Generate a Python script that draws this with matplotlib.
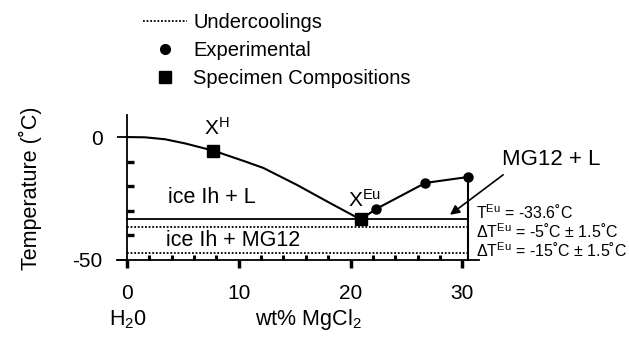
import matplotlib
matplotlib.use("Agg")
import matplotlib.pyplot as plt
from matplotlib.lines import Line2D
from matplotlib.ticker import FixedLocator
import matplotlib.transforms as mtransforms

plt.rcParams['font.family'] = ['Liberation Sans', 'DejaVu Sans']
plt.rcParams['mathtext.fontset'] = 'custom'
plt.rcParams['mathtext.rm'] = 'Liberation Sans'
plt.rcParams['mathtext.it'] = 'Liberation Sans:italic'
plt.rcParams['mathtext.bf'] = 'Liberation Sans:bold'

# ---- data ----
liquidus_x = [0, 1.6, 3.4, 5.2, 7.0, 7.7, 10.6, 12.2, 15.2, 18.2, 20.9]
liquidus_T = [0, -0.1, -0.9, -2.6, -4.7, -5.5, -10.0, -12.6, -19.5, -27.0, -33.6]
exp_x = [22.3, 26.7, 30.5]
exp_T = [-29.3, -18.7, -16.3]
spec_x = [7.7, 20.9]
spec_T = [-5.5, -33.6]
T_eu = -33.6
undercooling_T = [-36.7, -47.3]
x_ticks = [0, 10, 20, 30]
x_tick_labels = ["0", "10", "20", "30"]
x_minor = [2, 4, 6, 8, 12, 14, 16, 18, 22, 24, 26, 28]
y_ticks = [-50, 0]
y_tick_labels = ["-50", "0"]
y_minor = [-40, -30, -20, -10]

W, H = 629, 339
fig = plt.figure(figsize=(W / 100, H / 100), dpi=100)
left, right, top, bottom = 117, 479, 115, 267
ax = fig.add_axes([left / W, 1 - bottom / H, (right - left) / W, (bottom - top) / H])
ax.set_xlim(-0.9, 31.5)
ax.set_ylim(-53, 9)

for s in ['top', 'right']:
    ax.spines[s].set_visible(False)
ax.spines['bottom'].set_position(('data', -50))
ax.spines['left'].set_position(('data', 0))
for s in ['bottom', 'left']:
    ax.spines[s].set_linewidth(1.3)

ax.xaxis.set_major_locator(FixedLocator(x_ticks))
ax.set_xticklabels(x_tick_labels)
ax.xaxis.set_minor_locator(FixedLocator(x_minor))
ax.yaxis.set_major_locator(FixedLocator(y_ticks))
ax.set_yticklabels(y_tick_labels)
ax.yaxis.set_minor_locator(FixedLocator(y_minor))

ax.tick_params(axis='x', which='major', direction='out', length=6, width=2.5,
               pad=11.5, labelsize=15)
ax.tick_params(axis='x', which='minor', direction='in', length=3.5, width=2.2)
ax.tick_params(axis='y', which='major', direction='out', length=7.2, width=1.3,
               pad=10.5, labelsize=15)
ax.tick_params(axis='y', which='minor', direction='in', length=5, width=2.4)

x_right = exp_x[-1]
ax.plot([0, x_right], [T_eu, T_eu], color='black', lw=1.3)
for uT in undercooling_T:
    ax.plot([0, x_right], [uT, uT], color='black', lw=1.3, linestyle=(0, (1, 1)))
ax.plot([x_right, x_right], [-50, exp_T[-1]], color='black', lw=1.5)

ax.plot(liquidus_x, liquidus_T, color='black', lw=1.5, solid_joinstyle='round')
ax.plot([spec_x[-1]] + exp_x, [spec_T[-1]] + exp_T, color='black', lw=1.5)
ax.plot(exp_x, exp_T, 'o', color='black', ms=6.5)
ax.plot(spec_x, spec_T, 's', color='black', ms=8)

ax.text(8.0, 0.8, r'X$^{\mathrm{H}}$', ha='center', va='baseline', fontsize=15)
ax.text(21.3, -28.5, r'X$^{\mathrm{Eu}}$', ha='center', va='baseline', fontsize=15)
ax.text(7.6, -26.8, 'ice Ih + L', ha='center', va='baseline', fontsize=15.5)
ax.text(9.5, -44.3, 'ice Ih + MG12', ha='center', va='baseline', fontsize=15.5)
ax.text(37.96, -9.35, 'MG12 + L', ha='center', va='center', fontsize=16,
        clip_on=False)
ax.annotate('', xy=(28.9, -31.7), xytext=(33.66, -15.4),
            arrowprops=dict(arrowstyle='-|>', color='black', lw=1.2,
                            mutation_scale=14, shrinkA=0, shrinkB=0),
            annotation_clip=False)
ax.text(31.25, -30.9, r'T$^{\mathrm{Eu}}$ = -33.6˚C', ha='left', va='center',
        fontsize=11.5, clip_on=False)
ax.text(31.25, -38.6, r'ΔT$^{\mathrm{Eu}}$ = -5˚C ± 1.5˚C', ha='left', va='center',
        fontsize=11.5, clip_on=False)
ax.text(31.25, -46.3, r'ΔT$^{\mathrm{Eu}}$ = -15˚C ± 1.5˚C', ha='left', va='center',
        fontsize=11.5, clip_on=False)

trans = mtransforms.blended_transform_factory(ax.transData, fig.transFigure)
ax.text(0.1, 1 - 320 / H, r'H$_{2}$0', ha='center', va='center', fontsize=15.5,
        transform=trans)
ax.text(16.2, 1 - 320 / H, r'wt% MgCl$_{2}$', ha='center', va='center',
        fontsize=15.5, transform=trans)
fig.text(30 / W, 1 - 188 / H, 'Temperature (˚C)', rotation=90, ha='center',
         va='center', fontsize=15.5)

handles = [Line2D([], [], color='black', lw=1.3, linestyle=(0, (1, 1))),
           Line2D([], [], color='black', marker='o', ms=7, linestyle='none'),
           Line2D([], [], color='black', marker='s', ms=8.5, linestyle='none')]
labels = ['Undercoolings', 'Experimental', 'Specimen Compositions']
fig.legend(handles, labels, loc='upper left', bbox_to_anchor=(143 / W, 1 - 13 / H),
           frameon=False, fontsize=14.5, handlelength=2.2, handletextpad=0.3,
           labelspacing=0.45, borderpad=0, borderaxespad=0)

fig.savefig('out.png', dpi=100)
